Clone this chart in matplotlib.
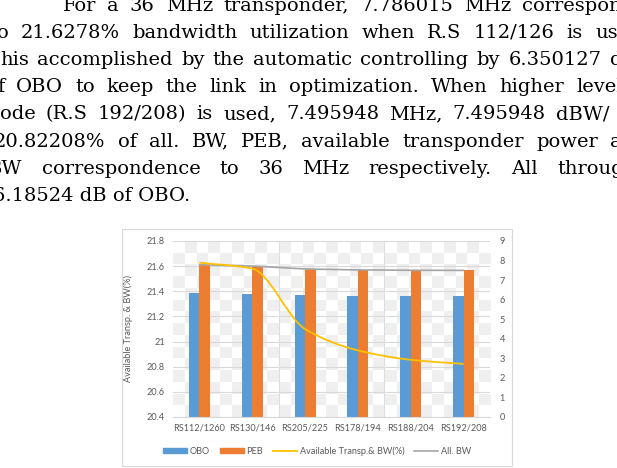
import numpy as np
import matplotlib
matplotlib.use('Agg')
import matplotlib.pyplot as plt
from matplotlib.path import Path
from matplotlib.patches import PathPatch, Rectangle, Patch
from matplotlib.lines import Line2D
from matplotlib.colors import ListedColormap

W, H = 617, 468

# data
categories = ['RS112/1260', 'RS130/146', 'RS205/225', 'RS178/194', 'RS188/204', 'RS192/208']
obo = [6.350, 6.300, 6.250, 6.200, 6.190, 6.185]           # dB, right axis
peb = [7.786, 7.720, 7.570, 7.520, 7.505, 7.496]           # dBW, right axis
avail_bw = [21.628, 21.580, 21.100, 20.930, 20.855, 20.822]  # %, left axis
all_bw = [7.786, 7.720, 7.570, 7.520, 7.505, 7.496]        # MHz, right axis

left_ticks = [20.4, 20.6, 20.8, 21.0, 21.2, 21.4, 21.6, 21.8]
left_labels = ['20.4', '20.6', '20.8', '21', '21.2', '21.4', '21.6', '21.8']
right_ticks = list(range(10))

# paragraph above the chart (cropped at the page edges)
body_lines = [
    'For a 36 MHz transponder, 7.786015 MHz correspond',
    'o 21.6278% bandwidth utilization when R.S 112/126 is used,',
    'his accomplished by the automatic controlling by 6.350127 dB',
    'f OBO to keep the link in optimization. When higher level',
    'ode (R.S 192/208) is used, 7.495948 MHz, 7.495948 dBW/',
    '20.82208% of all. BW, PEB, available transponder power and',
    'BW correspondence to 36 MHz respectively. All throughout',
    '6.18524 dB of OBO.',
]
line_left = [63, -3, 0, -3, 0, -6, -12, -7]
last_word_x = [522, 595, 610, 576, 556, 610, 557, None]

BLUE, ORANGE, YELLOW, GREY = '#5B9BD5', '#ED7D31', '#FFC000', '#A5A5A5'
TXT = '#595959'
FS = 6.6


def fx(px):
    return px / W


def fy(py):
    return 1 - py / H


fig = plt.figure(figsize=(W / 100, H / 100), dpi=100)
fig.patch.set_facecolor('white')

renderer = fig.canvas.get_renderer()
for i, line in enumerate(body_lines):
    y = fy(10.6 + i * 27.2)
    if last_word_x[i] is None:
        fig.text(fx(line_left[i]), y, line, fontsize=14, family='DejaVu Serif', va='baseline')
        continue
    words = line.split(' ')
    arts = [fig.text(0, y, w, fontsize=14, family='DejaVu Serif', va='baseline') for w in words]
    widths = [a.get_window_extent(renderer).width for a in arts]
    gap = max((last_word_x[i] - line_left[i] - sum(widths[:-1])) / (len(words) - 1), 5)
    x = line_left[i]
    for a, w in zip(arts, widths):
        a.set_x(fx(x))
        x += w + gap

# --- chart frame ---
fig.add_artist(Rectangle((fx(122), fy(466)), 390 / W, 237 / H, transform=fig.transFigure,
                         fill=False, ec='#D9D9D9', lw=0.8))

ax = fig.add_axes([fx(173), fy(417), (490 - 173) / W, (417 - 241) / H])
ax2 = ax.twinx()
x = np.arange(len(categories))

# faint checkered background (transparent export look)
checker = np.indices((15, 27)).sum(axis=0) % 2
ax.imshow(checker, cmap=ListedColormap(['white', '#EFEFEF']), extent=(0, 1, 0, 1),
          transform=ax.transAxes, aspect='auto', interpolation='nearest', zorder=0)

ax.set_xlim(-0.5, len(categories) - 0.5)
ax.set_ylim(20.4, 21.8)
ax.set_yticks(left_ticks)
ax.set_yticklabels(left_labels)
ax.yaxis.grid(True, color='#D9D9D9', lw=0.8)
ax.set_axisbelow(True)
for xv in (1.5, 3.5):
    ax.axvline(xv, color='#DDDDDD', lw=0.8, zorder=1)

ax2.set_ylim(0, 9)
ax2.set_yticks(right_ticks)

ax2.bar(x - 0.1, obo, width=0.2, color=BLUE, zorder=2)
ax2.bar(x + 0.1, peb, width=0.2, color=ORANGE, zorder=2)
ax2.plot(x, all_bw, color=GREY, lw=1.2, zorder=3)

# smoothed line through the points (monotone cubic, as Bezier segments)
yv = np.asarray(avail_bw, dtype=float)
d = np.diff(yv)
m = np.empty_like(yv)
m[0], m[-1] = d[0], d[-1]
for k in range(1, len(yv) - 1):
    m[k] = 0.0 if d[k - 1] * d[k] <= 0 else 2.0 / (1.0 / d[k - 1] + 1.0 / d[k])
verts = [(x[0], yv[0])]
codes = [Path.MOVETO]
for k in range(len(yv) - 1):
    verts += [(x[k] + 1 / 3, yv[k] + m[k] / 3), (x[k + 1] - 1 / 3, yv[k + 1] - m[k + 1] / 3),
              (x[k + 1], yv[k + 1])]
    codes += [Path.CURVE4] * 3
ax2.add_patch(PathPatch(Path(verts, codes), fill=False, ec=YELLOW, lw=1.3,
                        transform=ax.transData, zorder=4))
ax2.set_xlim(-0.5, len(categories) - 0.5)

ax.set_xticks(x)
ax.set_xticklabels(categories)
for a in (ax, ax2):
    for s in a.spines.values():
        s.set_visible(False)
    a.tick_params(length=0, colors=TXT, labelsize=FS)
    for lab in a.get_xticklabels() + a.get_yticklabels():
        lab.set_family('Lato')
ax2.spines['bottom'].set_visible(True)
ax2.spines['bottom'].set_color('#D9D9D9')
ax.tick_params(axis='x', pad=5)
ax.tick_params(axis='y', pad=6)
ax2.tick_params(axis='y', pad=7)

ax.set_ylabel('Available Transp. & BW(%)', fontsize=FS, color=TXT, family='Lato')
ax.yaxis.set_label_coords((133 - 173) / 317, 0.5)

handles = [Patch(color=BLUE, label='OBO'), Patch(color=ORANGE, label='PEB'),
           Line2D([], [], color=YELLOW, lw=1.3, label='Available Transp.& BW(%)'),
           Line2D([], [], color=GREY, lw=1.2, label='All. BW')]
leg = fig.legend(handles=handles, loc='center', bbox_to_anchor=(fx(317), fy(451)), ncol=4,
                 frameon=False, prop={'family': 'Lato', 'size': FS}, handlelength=2.6,
                 handleheight=0.6, handletextpad=0.3, columnspacing=1.1)
for t in leg.get_texts():
    t.set_color(TXT)

fig.savefig('out.png', dpi=100)
